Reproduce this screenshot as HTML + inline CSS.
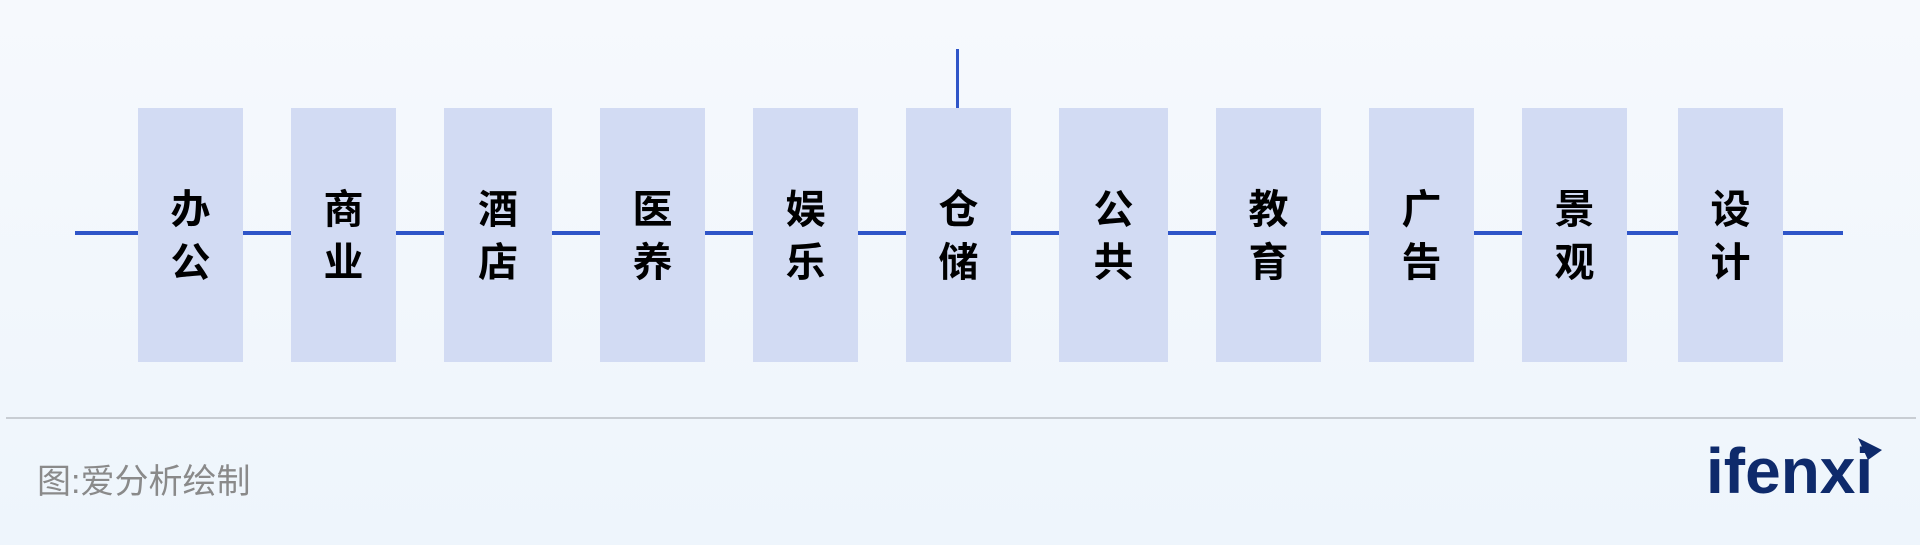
<!DOCTYPE html>
<html><head><meta charset="utf-8"><style>
body{margin:0;width:1920px;height:545px;overflow:hidden;background:linear-gradient(#f6f9fd,#eef5fc);position:relative;font-family:"Liberation Sans","Noto Sans CJK SC",sans-serif}
.b{position:absolute;top:108px;width:105px;height:254px;background:#d2dbf3;display:flex;flex-direction:column;align-items:center;justify-content:center;font-size:40px;line-height:53px;color:#000;box-sizing:border-box;font-weight:700;padding-top:4px}
.l{position:absolute;left:75px;width:1768px;top:231px;height:4px;background:#2f55c8}
</style></head><body>
<div class="l"></div>
<div style="position:absolute;left:956px;top:49px;width:3px;height:60px;background:#2f55c8"></div>
<div class="b" style="left:138px"><span>办</span><span>公</span></div>
<div class="b" style="left:291px"><span>商</span><span>业</span></div>
<div class="b" style="left:444px;width:108px"><span>酒</span><span>店</span></div>
<div class="b" style="left:600px"><span>医</span><span>养</span></div>
<div class="b" style="left:753px"><span>娱</span><span>乐</span></div>
<div class="b" style="left:906px"><span>仓</span><span>储</span></div>
<div class="b" style="left:1059px;width:109px"><span>公</span><span>共</span></div>
<div class="b" style="left:1216px"><span>教</span><span>育</span></div>
<div class="b" style="left:1369px"><span>广</span><span>告</span></div>
<div class="b" style="left:1522px"><span>景</span><span>观</span></div>
<div class="b" style="left:1678px"><span>设</span><span>计</span></div>
<div style="position:absolute;left:6px;width:1910px;top:417px;height:2px;background:#c8cdd3"></div>
<div style="position:absolute;left:37px;top:454px;font-size:34px;color:#8a8a8a">图:爱分析绘制</div>
<div style="position:absolute;left:1706px;top:434px;font-size:64px;font-weight:bold;color:#0e2a6b;letter-spacing:0px">ifenxi</div>
<svg style="position:absolute;left:1852px;top:436px" width="32" height="30"><polygon points="6,2 30,14 16,24" fill="#0e2a6b"/></svg>
</body></html>
